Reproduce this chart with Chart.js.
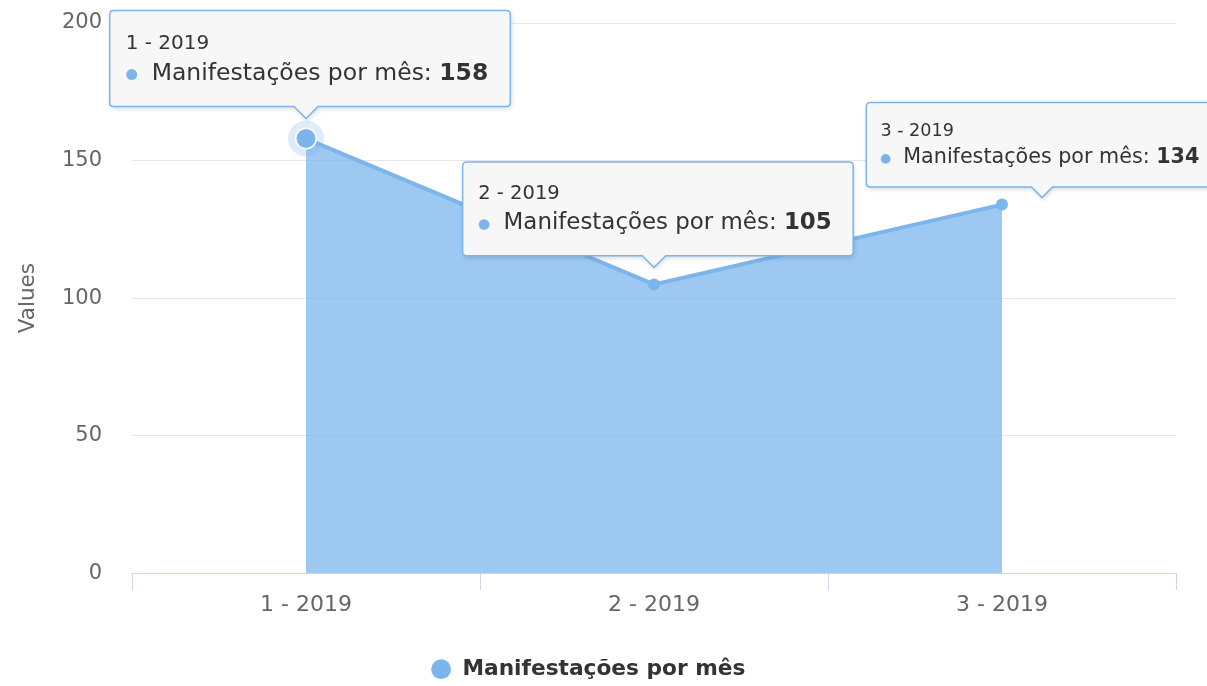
<!DOCTYPE html>
<html>
<head>
<meta charset="utf-8">
<script src="https://cdn.jsdelivr.net/npm/chart.js@4.4.1/dist/chart.umd.min.js"></script>
<style>
  html, body { margin: 0; padding: 0; background: #fff; }
  #wrap { width: 1207px; height: 686px; }
</style>
</head>
<body>
<div id="wrap"><canvas id="chart" width="1207" height="686"></canvas></div>
<script>
// data
const months = ['1 - 2019', '2 - 2019', '3 - 2019'];
const seriesName = 'Manifestações por mês';
const manifestacoes = [158, 105, 134];
const yTicks = [0, 50, 100, 150, 200];

const FONT = '"DejaVu Sans", Verdana, sans-serif';
const BLUE = '#7cb5ec';

// tooltip look for each point (pointer shift, gap above the point, scale, box anchor)
const tipStyle = [
  { shift: 0, gap: 20, scale: 1, anchor: 0.49 },
  { shift: 0, gap: 17, scale: 0.975, anchor: 0.49 },
  { shift: 40, gap: 7, scale: 0.88, anchor: 0.385 }
];

function roundedCallout(ctx, x, y, w, h, r, ax, tipY, half) {
  ctx.beginPath();
  ctx.moveTo(x + r, y);
  ctx.lineTo(x + w - r, y);
  ctx.quadraticCurveTo(x + w, y, x + w, y + r);
  ctx.lineTo(x + w, y + h - r);
  ctx.quadraticCurveTo(x + w, y + h, x + w - r, y + h);
  ctx.lineTo(ax + half, y + h);
  ctx.lineTo(ax, tipY);
  ctx.lineTo(ax - half, y + h);
  ctx.lineTo(x + r, y + h);
  ctx.quadraticCurveTo(x, y + h, x, y + h - r);
  ctx.lineTo(x, y + r);
  ctx.quadraticCurveTo(x, y, x + r, y);
  ctx.closePath();
}

// hover marker + halo on the first point
const haloPlugin = {
  id: 'halo',
  afterDatasetsDraw(chart) {
    const pt = chart.getDatasetMeta(0).data[0];
    if (!pt) return;
    const ctx = chart.ctx;
    ctx.save();
    ctx.beginPath();
    ctx.arc(pt.x, pt.y, 18, 0, Math.PI * 2);
    ctx.fillStyle = 'rgba(124,181,236,0.25)';
    ctx.fill();
    ctx.beginPath();
    ctx.arc(pt.x, pt.y, 11, 0, Math.PI * 2);
    ctx.fillStyle = '#ffffff';
    ctx.fill();
    ctx.beginPath();
    ctx.arc(pt.x, pt.y, 9.5, 0, Math.PI * 2);
    ctx.fillStyle = BLUE;
    ctx.fill();
    ctx.restore();
  }
};

// all three tooltips shown at once
const tipsPlugin = {
  id: 'allTips',
  afterDraw(chart) {
    const ctx = chart.ctx;
    const pts = chart.getDatasetMeta(0).data;
    [2, 1, 0].forEach(i => {
      const p = pts[i];
      const st = tipStyle[i];
      const s = st.scale;
      const bodyPx = 23.5 * s;
      const headPx = 20 * s;
      ctx.save();
      ctx.font = bodyPx + 'px ' + FONT;
      const label = seriesName + ': ';
      const lw = ctx.measureText(label).width;
      ctx.font = 'bold ' + bodyPx + 'px ' + FONT;
      const vw = ctx.measureText(String(manifestacoes[i])).width;
      const w = 42 * s + lw + vw + 22 * s;
      const h = 96 * s;
      const ax = p.x + st.shift;
      const tipY = p.y - st.gap;
      const bx = p.x - w * st.anchor;
      const by = tipY - 12 * s - h;

      ctx.shadowColor = 'rgba(0,0,0,0.16)';
      ctx.shadowBlur = 5;
      ctx.shadowOffsetX = 1;
      ctx.shadowOffsetY = 2;
      roundedCallout(ctx, bx, by, w, h, 4, ax, tipY, 12 * s);
      ctx.fillStyle = '#f7f7f7';
      ctx.fill();
      ctx.shadowColor = 'transparent';
      ctx.lineWidth = 1.5;
      ctx.strokeStyle = BLUE;
      ctx.stroke();

      ctx.textBaseline = 'middle';
      ctx.textAlign = 'left';
      ctx.fillStyle = '#333333';
      ctx.font = headPx + 'px ' + FONT;
      ctx.fillText(months[i], bx + 16 * s, by + 33 * s);

      ctx.beginPath();
      ctx.arc(bx + 22 * s, by + 64 * s, 5.5 * s, 0, Math.PI * 2);
      ctx.fillStyle = BLUE;
      ctx.fill();

      ctx.fillStyle = '#333333';
      ctx.font = bodyPx + 'px ' + FONT;
      ctx.fillText(label, bx + 42 * s, by + 63 * s);
      ctx.font = 'bold ' + bodyPx + 'px ' + FONT;
      ctx.fillText(String(manifestacoes[i]), bx + 42 * s + lw, by + 63 * s);
      ctx.restore();
    });
  }
};

const ctx = document.getElementById('chart').getContext('2d');
new Chart(ctx, {
  type: 'line',
  data: {
    labels: months,
    datasets: [{
      label: seriesName,
      data: manifestacoes,
      fill: 'origin',
      backgroundColor: 'rgba(124,181,236,0.75)',
      borderColor: BLUE,
      borderWidth: 4,
      tension: 0,
      pointRadius: [0, 6, 6],
      pointBackgroundColor: BLUE,
      pointBorderColor: BLUE,
      pointBorderWidth: 0,
      pointStyle: 'circle'
    }]
  },
  options: {
    responsive: false,
    animation: false,
    events: [],
    layout: { padding: { top: 12, right: 31, bottom: -4, left: 0 } },
    plugins: {
      tooltip: { enabled: false },
      legend: {
        position: 'bottom',
        labels: {
          usePointStyle: true,
          pointStyle: 'circle',
          boxWidth: 21,
          boxHeight: 14,
          color: '#333333',
          padding: 4,
          font: { family: FONT, size: 21.7, weight: 'bold' }
        }
      }
    },
    scales: {
      x: {
        offset: true,
        grid: {
          offset: true,
          drawOnChartArea: false,
          drawTicks: true,
          tickLength: 17,
          color: '#ccd6eb'
        },
        border: { color: '#ccd6eb', width: 1 },
        ticks: {
          color: '#666666',
          padding: 2,
          font: { family: FONT, size: 22 }
        },
        afterFit(scale) { scale.height = 81; }
      },
      y: {
        min: 0,
        max: 200,
        afterBuildTicks(scale) { scale.ticks = yTicks.map(v => ({ value: v })); },
        grid: { color: '#e6e6e6', drawTicks: false },
        border: { display: false },
        ticks: {
          color: '#666666',
          padding: 30,
          font: { family: FONT, size: 21 }
        },
        title: {
          display: true,
          text: 'Values',
          color: '#666666',
          padding: { top: 16, bottom: 0 },
          font: { family: FONT, size: 21.5 }
        },
        afterFit(scale) {
          scale.width = 132;
          scale.paddingTop = 23;
          scale.paddingBottom = 0;
        }
      }
    }
  },
  plugins: [haloPlugin, tipsPlugin]
});
</script>
</body>
</html>
